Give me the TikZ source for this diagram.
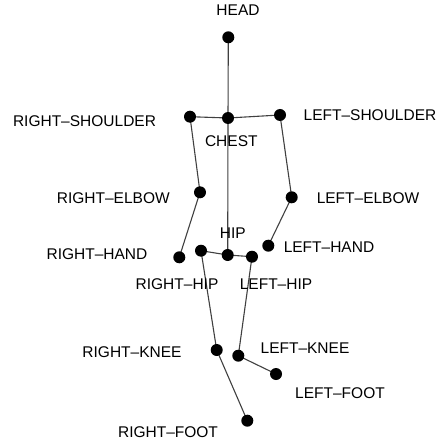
\documentclass[tikz,border=0pt]{standalone}
\usepackage{fontspec}
\setmainfont{Liberation Sans}
\usetikzlibrary{backgrounds}
\begin{document}
\begin{tikzpicture}[x=1pt,y=-1pt,
  joint/.style={circle,fill=black,inner sep=0pt,minimum size=12pt},
  bone/.style={draw=black!75,line width=1.1pt},
  lab/.style={font=\fontsize{15.5}{18}\selectfont,inner sep=0pt,text=black}]
\useasboundingbox (0,0) rectangle (437,446);
% joints
\node[joint] (head) at (228.3,37.3) {};
\node[joint] (chest) at (228,118) {};
\node[joint] (rsh) at (190,116.7) {};
\node[joint] (lsh) at (280,115) {};
\node[joint] (rel) at (200,192.3) {};
\node[joint] (lel) at (291.7,197.3) {};
\node[joint] (rha) at (179.3,257.3) {};
\node[joint] (lha) at (268.3,245.7) {};
\node[joint] (hip) at (227.7,255) {};
\node[joint] (rhip) at (201,250.7) {};
\node[joint] (lhip) at (252,256.7) {};
\node[joint] (rkn) at (216.7,350) {};
\node[joint] (lkn) at (238.3,355.7) {};
\node[joint] (lft) at (276,374) {};
\node[joint] (rft) at (247.3,420.7) {};
% bones
\begin{scope}[on background layer]
\draw[bone] (head.center) -- (chest.center);
\draw[bone] (rsh.center) -- (chest.center) -- (lsh.center);
\draw[bone] (rsh.center) -- (rel.center) -- (rha.center);
\draw[bone] (lsh.center) -- (lel.center) -- (lha.center);
\draw[bone] (chest.center) -- (hip.center);
\draw[bone] (rhip.center) -- (hip.center) -- (lhip.center);
\draw[bone] (rhip.center) -- (rkn.center) -- (rft.center);
\draw[bone] (lhip.center) -- (lkn.center) -- (lft.center);
\end{scope}
% labels
\node[lab] (tHead) at (238,10.5) {HEAD};
\node[lab] (tRsh) at (84.5,121.5) {RIGHT–SHOULDER};
\node[lab] (tChest) at (231.3,141.5) {CHEST};
\node[lab] (tLsh) at (370,115) {LEFT–SHOULDER};
\node[lab] (tRel) at (113.3,198.3) {RIGHT–ELBOW};
\node[lab] (tLel) at (368,198.3) {LEFT–ELBOW};
\node[lab] (tHip) at (232.8,233.3) {HIP};
\node[lab] (tRha) at (97,254.3) {RIGHT–HAND};
\node[lab] (tLha) at (329,246.7) {LEFT–HAND};
\node[lab] (tRhip) at (177,284.5) {RIGHT–HIP};
\node[lab] (tLhip) at (276,284.5) {LEFT–HIP};
\node[lab] (tRkn) at (132,351.7) {RIGHT–KNEE};
\node[lab] (tLkn) at (305,348.3) {LEFT–KNEE};
\node[lab] (tLft) at (340,392.7) {LEFT–FOOT};
\node[lab] (tRft) at (168,431.7) {RIGHT–FOOT};
\end{tikzpicture}
\end{document}
